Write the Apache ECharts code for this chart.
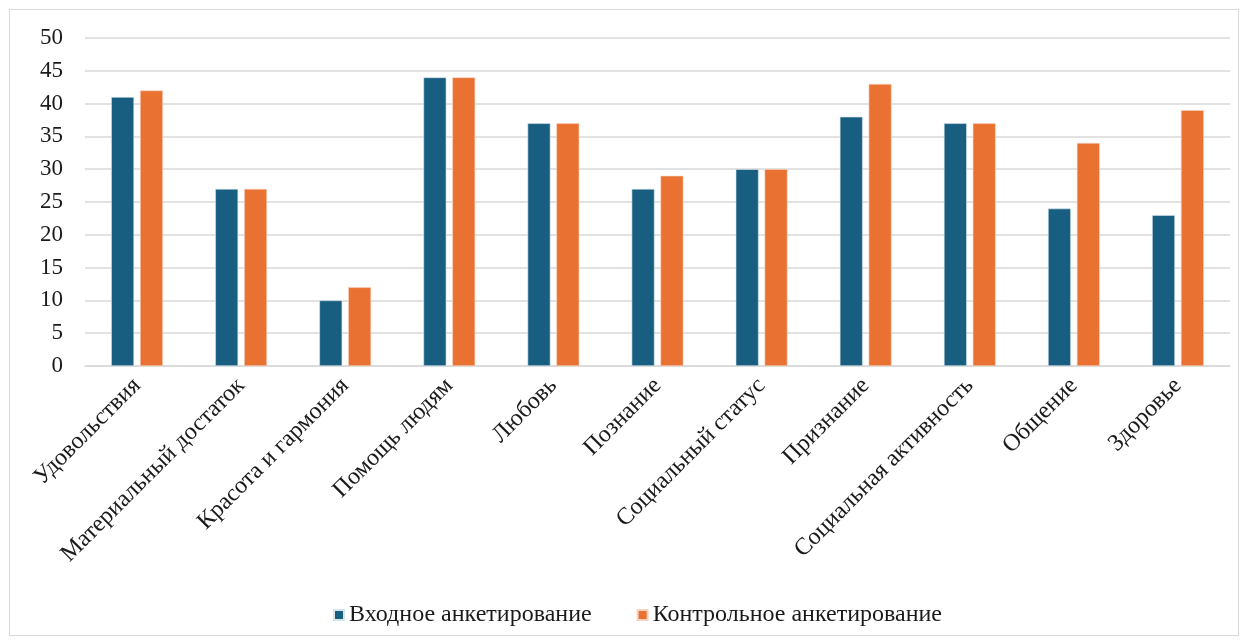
<!DOCTYPE html>
<html>
<head>
<meta charset="utf-8">
<script src="https://cdn.jsdelivr.net/npm/echarts@6/dist/echarts.min.js"></script>
<style>
  html, body { margin: 0; padding: 0; background: #ffffff; }
  #frame { position: absolute; left: 9px; top: 9px; width: 1230px; height: 627px; border: 1.5px solid #d9d9d9; box-sizing: border-box; }
  #chart { position: absolute; left: 0; top: 0; width: 1247px; height: 642px; }
</style>
</head>
<body>
<div id="frame"></div>
<div id="chart"></div>
<script>
const categories = ['Удовольствия', 'Материальный достаток', 'Красота и гармония', 'Помощь людям', 'Любовь', 'Познание', 'Социальный статус', 'Признание', 'Социальная активность', 'Общение', 'Здоровье'];
const seriesNames = ['Входное анкетирование', 'Контрольное анкетирование'];
const entryValues = [41, 27, 10, 44, 37, 27, 30, 38, 37, 24, 23];
const controlValues = [42, 27, 12, 44, 37, 29, 30, 43, 37, 34, 39];

const font = '"Liberation Serif", "Times New Roman", serif';
const chart = echarts.init(document.getElementById('chart'), null, { renderer: 'canvas' });
chart.setOption({
  animation: false,
  textStyle: { fontFamily: font },
  legend: {
    top: 598,
    left: 328,
    itemWidth: 10,
    itemHeight: 10,
    itemGap: 45,
    icon: 'rect',
    textStyle: { fontFamily: font, fontSize: 24, color: '#1a1a1a' },
    data: seriesNames
  },
  grid: { left: 85, right: 17, top: 38, bottom: 276, containLabel: false },
  xAxis: {
    type: 'category',
    data: categories,
    axisLine: { lineStyle: { color: '#d9d9d9', width: 1.5 } },
    axisTick: { show: false },
    axisLabel: { rotate: 45, fontFamily: font, fontSize: 24, color: '#1a1a1a', margin: 16, interval: 0 }
  },
  yAxis: {
    type: 'value',
    min: 0, max: 50, interval: 5,
    axisLine: { show: false },
    axisTick: { show: false },
    splitLine: { lineStyle: { color: '#d9d9d9', width: 1.5 } },
    axisLabel: { fontFamily: font, fontSize: 23, color: '#1a1a1a', margin: 22 }
  },
  series: [
    {
      name: seriesNames[0], type: 'bar', data: entryValues,
      barWidth: '22%', barGap: '26%',
      itemStyle: { color: '#175e80', borderColor: '#d6e4ec', borderWidth: 0.6 }
    },
    {
      name: seriesNames[1], type: 'bar', data: controlValues,
      barWidth: '22%',
      itemStyle: { color: '#e97132', borderColor: '#f7d3bf', borderWidth: 0.6 }
    }
  ]
});
</script>
</body>
</html>
